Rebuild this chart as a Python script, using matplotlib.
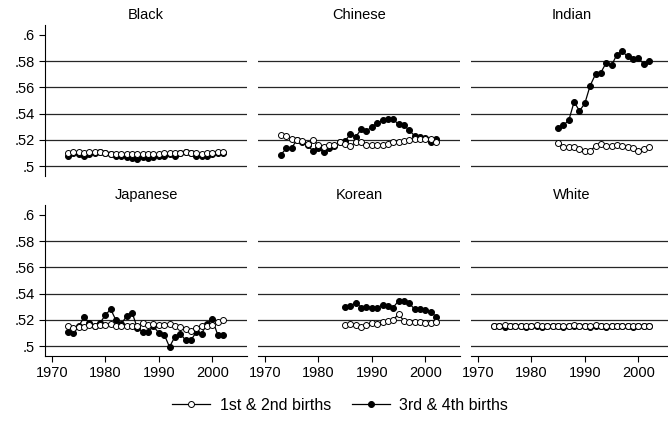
import numpy as np
import matplotlib
matplotlib.use('Agg')
import matplotlib.pyplot as plt
from matplotlib.lines import Line2D

plt.rcParams['font.family'] = ['Liberation Sans', 'DejaVu Sans']

# years
yrs_full = np.arange(1973, 2003)
yrs_late = np.arange(1985, 2003)

# share of boys, 1st & 2nd births (open) and 3rd & 4th births (filled)
black_12 = [.510, .511, .511, .510, .511, .511, .511, .510, .509, .509, .509, .509, .509, .509, .509,
            .509, .509, .509, .510, .510, .510, .510, .511, .510, .510, .509, .510, .510, .511, .511]
black_34 = [.508, .510, .509, .508, .509, .510, .511, .510, .509, .508, .508, .507, .506, .505, .507,
            .506, .507, .508, .508, .509, .508, .510, .511, .510, .508, .508, .508, .509, .510, .510]

chinese_12 = [.524, .5228, .521, .520, .519, .517, .520, .516, .5147, .516, .5164, .518, .517, .5154, .518,
              .518, .5164, .5164, .5164, .5164, .517, .518, .5185, .519, .520, .521, .521, .521, .5205, .5185]
chinese_34 = [.5088, .5134, .5139, .520, .5185, .516, .5113, .5134, .5108, .514, .5154, .5185, .519, .5246, .5223,
              .528, .5266, .530, .5325, .535, .5358, .5358, .5317, .531, .5274, .523, .5223, .5215, .518, .521]

indian_12 = [.5175, .5148, .5143, .5143, .5131, .5118, .5118, .515, .5168, .5155, .5155, .516, .515, .5143,
             .5136, .5118, .5131, .5148]
indian_34 = [.5287, .5312, .5349, .549, .542, .5478, .5614, .570, .5713, .5788, .5768, .585, .5874, .5837,
             .582, .5825, .578, .580]

japanese_12 = [.515, .5138, .5143, .5145, .5163, .5155, .5163, .5163, .517, .515, .515, .5155, .5155, .515, .5175,
               .5158, .517, .5163, .5158, .517, .5155, .5145, .513, .5113, .5138, .5155, .515, .5163, .518, .5195]
japanese_34 = [.5105, .510, .515, .522, .5175, .5155, .5175, .5238, .528, .5195, .517, .523, .5255, .5135, .511,
               .511, .515, .510, .5088, .4993, .507, .5095, .5045, .5045, .5105, .5095, .517, .5205, .5088, .5088]

korean_12 = [.5159, .5167, .5162, .5149, .5162, .5172, .5167, .518, .5192, .520, .5243, .5192, .5185, .5185,
             .518, .5175, .5175, .5185]
korean_34 = [.530, .5307, .5332, .5294, .530, .5294, .5294, .5312, .5307, .5294, .5345, .5345, .5327, .5281,
             .5281, .5276, .5261, .5225]

white_12 = [.5156, .5155, .5157, .5155, .5156, .5154, .5156, .5155, .5157, .5155, .5156, .5155, .5154, .5156, .5155,
            .5157, .5156, .5155, .5156, .5157, .5155, .5156, .5155, .5154, .5156, .5155, .5156, .5155, .5154, .5155]
white_34 = [.5150, .5152, .5149, .5151, .5150, .5152, .5149, .5150, .5151, .5149, .5150, .5152, .5150, .5149, .5151,
            .5150, .5152, .5150, .5149, .5151, .5150, .5149, .5151, .5150, .5152, .5150, .5149, .5151, .5150, .5151]

panels = [
    ('Black', yrs_full, black_12, black_34),
    ('Chinese', yrs_full, chinese_12, chinese_34),
    ('Indian', yrs_late, indian_12, indian_34),
    ('Japanese', yrs_full, japanese_12, japanese_34),
    ('Korean', yrs_late, korean_12, korean_34),
    ('White', yrs_full, white_12, white_34),
]

yticks = [.5, .52, .54, .56, .58, .6]
ytlabels = ['.5', '.52', '.54', '.56', '.58', '.6']
xticks = [1970, 1980, 1990, 2000]

W, H = 668., 423.
fig = plt.figure(figsize=(W / 100, H / 100), dpi=100)

lefts = [45, 258, 471]
tops = [25, 205]
pw, ph = 202, 151
ms = 4.3

for i, (name, yrs, s12, s34) in enumerate(panels):
    r, c = divmod(i, 3)
    ax = fig.add_axes([lefts[c] / W, 1 - (tops[r] + ph) / H, pw / W, ph / H])
    for y in yticks[:-1]:
        ax.axhline(y, color='0.15', lw=0.9, zorder=0)
    ax.plot(yrs, s34, '-o', color='black', lw=0.9, ms=ms, mfc='black', mec='black', mew=0.7)
    ax.plot(yrs, s12, '-o', color='black', lw=0.9, ms=ms, mfc='white', mec='black', mew=0.7)
    ax.set_xlim(1968.7, 2006.5)
    ax.set_ylim(0.4924, 0.6076)
    ax.set_title(name, fontsize=10.5, pad=4)
    for s in ['top', 'right']:
        ax.spines[s].set_visible(False)
    ax.spines['left'].set_visible(c == 0)
    ax.spines['bottom'].set_visible(r == 1)
    ax.tick_params(direction='out', length=4, width=0.8, labelsize=10.5, colors='black')
    if c == 0:
        ax.set_yticks(yticks)
        ax.set_yticklabels(ytlabels)
    else:
        ax.set_yticks([])
    if r == 1:
        ax.set_xticks(xticks)
    else:
        ax.set_xticks([])

handles = [
    Line2D([], [], color='black', lw=0.9, marker='o', ms=ms, mfc='white', mec='black', mew=0.7),
    Line2D([], [], color='black', lw=0.9, marker='o', ms=ms, mfc='black', mec='black', mew=0.7),
]
fig.legend(handles, ['1st & 2nd births', '3rd & 4th births'], loc='center',
           bbox_to_anchor=(340 / W, 1 - 405 / H), ncol=2, frameon=False, fontsize=11.5,
           handlelength=2.4, columnspacing=1.3, handletextpad=0.6)

fig.savefig('out.png', dpi=100)
